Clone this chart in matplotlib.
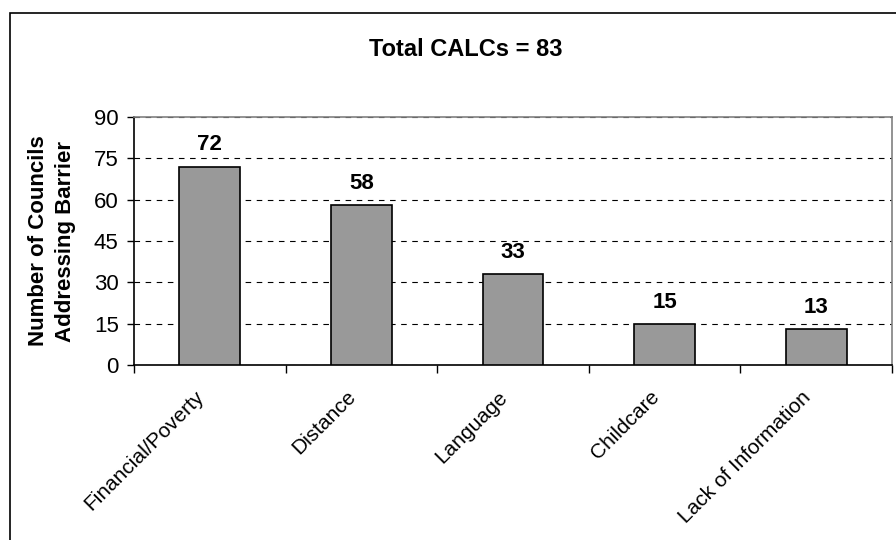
import matplotlib
matplotlib.use("Agg")
import matplotlib.pyplot as plt
import matplotlib.transforms as mtransforms
from matplotlib.patches import Rectangle

categories = ["Financial/Poverty", "Distance", "Language", "Childcare", "Lack of Information"]
councils = [72, 58, 33, 15, 13]
title = "Total CALCs = 83"
y_label = "Number of Councils\nAddressing Barrier"
y_ticks = [0, 15, 30, 45, 60, 75, 90]

plt.rcParams["font.family"] = ["Liberation Sans", "DejaVu Sans"]

fig = plt.figure(figsize=(8.96, 5.4), dpi=100)
ax = fig.add_axes([134 / 896, 1 - 365 / 540, (892 - 134) / 896, (365 - 117) / 540])

x = list(range(len(categories)))
ax.bar(x, councils, width=0.4, color="#999999", edgecolor="black", linewidth=1.2, zorder=3)

for xi, v in zip(x, councils):
    ax.annotate(str(v), (xi, v), xytext=(0, 8), textcoords="offset points",
                ha="center", va="bottom", fontsize=16, fontweight="bold")

ax.set_xlim(-0.5, len(categories) - 0.5)
ax.set_ylim(0, 90)
ax.set_yticks(y_ticks)
ax.tick_params(axis="y", labelsize=16, length=5, width=1, direction="out", pad=6)

# category labels on major ticks, boundary ticks as minor
ax.set_xticks(x)
ax.set_xticklabels(categories, rotation=45, ha="right", rotation_mode="anchor", fontsize=15)
ax.tick_params(axis="x", which="major", length=0, pad=16)
shift = mtransforms.ScaledTranslation(-15 / 100, 0, fig.dpi_scale_trans)
for lbl in ax.get_xticklabels():
    lbl.set_transform(lbl.get_transform() + shift)
ax.set_xticks([i - 0.5 for i in range(len(categories) + 1)], minor=True)
ax.tick_params(axis="x", which="minor", length=6, width=1, direction="out")

ax.yaxis.grid(True, linestyle=(0, (5, 5)), color="black", linewidth=0.8, zorder=0)
ax.set_axisbelow(True)

ax.spines["left"].set_color("black")
ax.spines["bottom"].set_color("black")
ax.spines["top"].set_color("#808080")
ax.spines["right"].set_color("#808080")
for s in ax.spines.values():
    s.set_linewidth(1.2)

fig.text(466 / 896, 1 - 50 / 540, title, ha="center", va="center", fontsize=17, fontweight="bold")
fig.text(52 / 896, 1 - 241 / 540, y_label, ha="center", va="center", rotation=90,
         fontsize=16, fontweight="bold", linespacing=1.35)

# outer chart frame (cut off at right and bottom)
fig.patches.append(Rectangle((10 / 896, -0.2), 1.5, 1.2 - 13 / 540, transform=fig.transFigure,
                             fill=False, edgecolor="black", linewidth=1.2, figure=fig))

fig.savefig("out.png", dpi=100)
plt.close(fig)
